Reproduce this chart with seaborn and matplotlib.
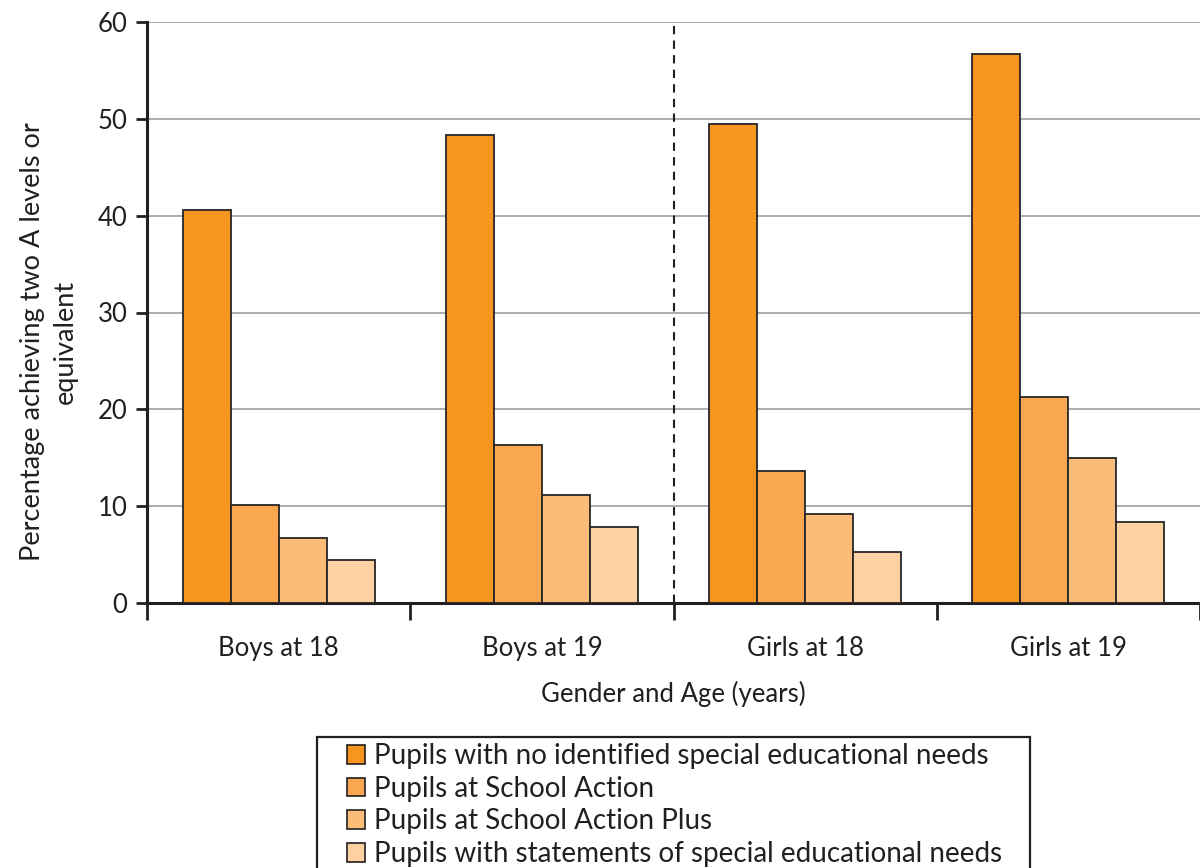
import matplotlib
matplotlib.use("Agg")
import matplotlib.pyplot as plt
from matplotlib.patches import Patch, Rectangle
import seaborn as sns
import pandas as pd

# Groups along the x axis
groups = ["Boys at 18", "Boys at 19", "Girls at 18", "Girls at 19"]

# Series: share of pupils achieving two A levels or equivalent (%)
series_names = [
    "Pupils with no identified special educational needs",
    "Pupils at School Action",
    "Pupils at School Action Plus",
    "Pupils with statements of special educational needs",
]
no_sen = [40.6, 48.3, 49.5, 56.7]
school_action = [10.1, 16.3, 13.6, 21.3]
school_action_plus = [6.7, 11.2, 9.2, 15.0]
statements = [4.4, 7.8, 5.3, 8.4]

colors = ["#F6951F", "#F9A750", "#FBBB79", "#FDD1A2"]

y_ticks = [0, 10, 20, 30, 40, 50, 60]

rows = []
for name, vals in zip(series_names, [no_sen, school_action, school_action_plus, statements]):
    for g, v in zip(groups, vals):
        rows.append({"group": g, "series": name, "value": v})
df = pd.DataFrame(rows)

sns.set_style("white")
plt.rcParams["font.family"] = ["Lato", "DejaVu Sans"]
INK = "#231f20"
FS = 18.5

fig = plt.figure(figsize=(12, 8.68), dpi=100)
W, H = 1200, 868
ax = fig.add_axes([147 / W, 1 - 603 / H, 1 - 147 / W, (603 - 22) / H])

sns.barplot(
    data=df, x="group", y="value", hue="series", order=groups,
    hue_order=series_names, palette=colors, saturation=1, width=0.73, gap=0,
    edgecolor="#262626", linewidth=1.3, legend=False, ax=ax, zorder=3,
)

ax.set_xlim(-0.5, len(groups) - 0.5)
ax.set_ylim(0, 60)
ax.set_yticks(y_ticks)
ax.yaxis.grid(True, color="#a6a6a6", linewidth=1.3, zorder=0)
ax.set_axisbelow(True)

for side in ["top", "right"]:
    ax.spines[side].set_visible(False)
for side in ["left", "bottom"]:
    ax.spines[side].set_color(INK)
    ax.spines[side].set_linewidth(2.2)

ax.tick_params(axis="y", direction="out", length=8, width=2, color=INK,
               labelsize=FS, pad=6, left=True)
ax.tick_params(axis="x", which="major", length=0, labelsize=FS, pad=24)
ax.set_xticks([i - 0.5 for i in range(len(groups) + 1)], minor=True)
ax.tick_params(axis="x", which="minor", direction="out", length=12, width=2,
               color=INK, bottom=True)

# Divider between boys and girls
ax.axvline(1.5, ymin=0, ymax=0.995, color=INK, linestyle=(0, (4, 3)),
           linewidth=1.5, zorder=4)

ax.set_xlabel("Gender and Age (years)", fontsize=FS, labelpad=14, color=INK)
ax.set_ylabel("Percentage achieving two A levels or\nequivalent", fontsize=19.5,
              labelpad=14, color=INK, linespacing=1.4)
ax.yaxis.label.set_y(0.45)
for lab in ax.get_xticklabels() + ax.get_yticklabels():
    lab.set_color(INK)

# Legend box, running off the bottom edge of the figure
fig.add_artist(Rectangle((317 / W, -0.01), (1030 - 317) / W, 0.01 + 1 - 737 / H,
                         transform=fig.transFigure, facecolor="white",
                         edgecolor=INK, linewidth=1.6, zorder=5))

handles = [Patch(facecolor=c, edgecolor=INK, linewidth=1.2) for c in colors]
leg = fig.legend(
    handles, series_names, loc="upper left",
    bbox_to_anchor=(347 / W, 1 - 743 / H), fontsize=20,
    frameon=False, handlelength=0.66, handleheight=0.66, handletextpad=0.3,
    labelspacing=0.24, borderpad=0, borderaxespad=0,
)
leg.set_zorder(6)
for t in leg.get_texts():
    t.set_color(INK)

fig.savefig("out.png", dpi=100)
